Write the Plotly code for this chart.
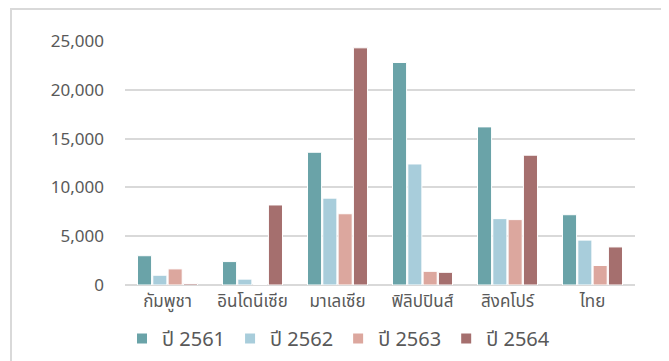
import plotly.graph_objects as go

categories = ["กัมพูชา", "อินโดนีเซีย", "มาเลเซีย", "ฟิลิปปินส์", "สิงคโปร์", "ไทย"]
series_names = ["ปี 2561", "ปี 2562", "ปี 2563", "ปี 2564"]
y2561 = [3000, 2400, 13600, 22800, 16200, 7200]
y2562 = [1000, 600, 8900, 12400, 6800, 4600]
y2563 = [1650, 50, 7300, 1400, 6700, 2000]
y2564 = [150, 8200, 24300, 1300, 13300, 3900]
colors = ["#6aa3a8", "#a8cddb", "#dca79e", "#a56f6e"]

W, H = 669, 361
# page body adds an 8px offset; positions below are in figure coordinates
ml, mr, mt, mb = 117, 42, 33, 84

fig = go.Figure()
for name, vals, c in zip(series_names, [y2561, y2562, y2563, y2564], colors):
    fig.add_trace(go.Bar(x=categories, y=vals, name=name, marker_color=c,
                         marker_line_color="white", marker_line_width=1))

pw = W - ml - mr
ph = H - mt - mb
fig.add_shape(type="rect", xref="paper", yref="paper",
              x0=(3 - ml) / pw, x1=(654 - ml) / pw,
              y0=-(H + 10 - mt - ph) / ph, y1=1 + (mt - 1) / ph,
              line=dict(color="#d9d9d9", width=2), fillcolor="rgba(0,0,0,0)", layer="below")

fig.update_layout(
    width=W, height=H,
    margin=dict(l=ml, r=mr, t=mt, b=mb, autoexpand=False),
    paper_bgcolor="white", plot_bgcolor="white",
    barmode="group", bargap=0.28, bargroupgap=0.08,
    font=dict(family="Noto Sans, Noto Sans Thai, sans-serif", color="#595959", size=17),
    showlegend=True,
    legend=dict(orientation="h", x=(114 - ml) / pw, xanchor="left", y=-34 / ph, yanchor="top",
                font=dict(size=20, color="#595959"), itemwidth=30, traceorder="normal",
                tracegroupgap=0, itemsizing="constant"),
    xaxis=dict(showgrid=False, showline=False, ticks="", tickfont=dict(size=17),
               ticklabelstandoff=4, automargin=False),
    yaxis=dict(range=[0, 25000], dtick=5000, tickformat=",", gridcolor="#d9d9d9", gridwidth=2,
               zeroline=True, zerolinecolor="#d9d9d9", zerolinewidth=2,
               ticklabelstandoff=20, tickfont=dict(size=17), automargin=False),
)

fig.write_html("out.html")
